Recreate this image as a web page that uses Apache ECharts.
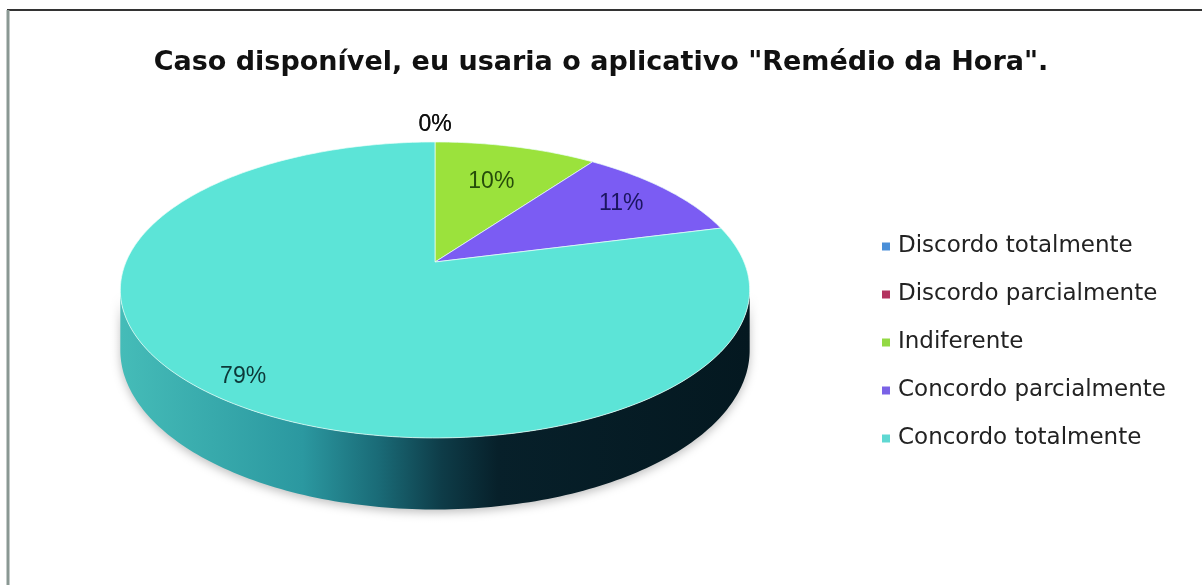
<!DOCTYPE html>
<html>
<head>
<meta charset="utf-8">
<script src="https://cdn.jsdelivr.net/npm/echarts@6/dist/echarts.min.js"></script>
<style>
  html, body { margin: 0; padding: 0; background: #fff; }
  #chart { width: 1202px; height: 585px; }
</style>
</head>
<body>
<div id="chart"></div>
<script>
// survey answers, percent of respondents
const categories = ['Discordo totalmente', 'Discordo parcialmente', 'Indiferente', 'Concordo parcialmente', 'Concordo totalmente']
const shares = [0, 0, 10, 11, 79]
const chartTitle = 'Caso disponível, eu usaria o aplicativo "Remédio da Hora".'

// styling
const topColors = ['#4a8fd8', '#b3335f', '#9be23c', '#7b5cf3', '#5ce4d7']
const legendColors = ['#4a8fd8', '#b3335f', '#93d944', '#7a62e6', '#5fd8d2']
const labelColors = ['#111', '#111', '#264d0a', '#1b1560', '#0d3838']
const labelRadius = [1.18, 1.18, 0.66, 0.79, 0.88]
const FONT = 'Arial, "Liberation Sans", sans-serif'
const WIDE_FONT = '"DejaVu Sans", sans-serif'

// perspective of the tilted disc
const pie = { cx: 435, cy: 262, a: 309, b: 142.7, k: 0.189, depth: 58 }

function project(r, phi) {
  const u = r * Math.sin(phi)
  const v = -r * Math.cos(phi)
  const w = 1 - pie.k * v
  return [pie.cx + pie.a * u / w, pie.cy + pie.b * v / w, w]
}

function arcPoints(a0, a1, r) {
  const pts = []
  const steps = Math.max(2, Math.ceil((a1 - a0) / (Math.PI / 180)))
  for (let i = 0; i <= steps; i++) {
    pts.push(project(r, a0 + (a1 - a0) * i / steps))
  }
  return pts
}

const total = shares.reduce((s, v) => s + v, 0)
const sideLeft = Math.acos(-pie.k)
const sideRight = 2 * Math.PI - sideLeft

const sideFill = new echarts.graphic.LinearGradient(120, 0, 750, 0, [
  { offset: 0, color: '#45bcb8' },
  { offset: 0.29, color: '#2b98a0' },
  { offset: 0.41, color: '#1a6b77' },
  { offset: 0.51, color: '#0e3c48' },
  { offset: 0.6, color: '#07202a' },
  { offset: 1, color: '#041820' },
], true)

function makeSlice(idx) {
  return function (params, api) {
    const value = api.value(0)
    const before = shares.slice(0, idx).reduce((s, v) => s + v, 0)
    const a0 = before / total * 2 * Math.PI
    const a1 = (before + value) / total * 2 * Math.PI
    const children = []

    // front wall
    const s0 = Math.max(a0, sideLeft)
    const s1 = Math.min(a1, sideRight)
    if (s1 > s0) {
      const top = arcPoints(s0, s1, 1)
      const bottom = top.map(p => [p[0], p[1] + pie.depth / p[2]]).reverse()
      children.push({
        type: 'polygon',
        shape: { points: top.map(p => [p[0], p[1]]).concat(bottom) },
        style: {
          fill: sideFill,
          shadowBlur: 10,
          shadowColor: 'rgba(0,0,0,0.25)',
          shadowOffsetY: 3,
        },
      })
    }

    // top face
    if (a1 > a0) {
      const pts = [[pie.cx, pie.cy]].concat(arcPoints(a0, a1, 1).map(p => [p[0], p[1]]))
      children.push({
        type: 'polygon',
        shape: { points: pts },
        style: {
          fill: topColors[idx],
          stroke: 'rgba(235,255,250,0.7)',
          lineWidth: 1,
        },
      })
    }

    // data label
    const mid = (a0 + a1) / 2
    const lp = project(labelRadius[idx], mid)
    children.push({
      type: 'text',
      x: lp[0],
      y: lp[1],
      z2: 10,
      style: {
        text: Math.round(value / total * 100) + '%',
        fill: labelColors[idx],
        font: '23px ' + FONT,
        align: 'center',
        verticalAlign: 'middle',
      },
    })

    return { type: 'group', children: children }
  }
}

const chart = echarts.init(document.getElementById('chart'))

const option = {
  backgroundColor: '#fff',
  animation: false,
  title: {
    text: chartTitle,
    left: 'center',
    top: 44,
    textStyle: {
      color: '#111',
      fontSize: 27,
      fontWeight: 'bold',
      fontFamily: WIDE_FONT,
    },
  },
  legend: {
    orient: 'vertical',
    left: 877,
    top: 230,
    icon: 'rect',
    itemWidth: 8,
    itemHeight: 8,
    itemGap: 25,
    data: categories,
    selectedMode: false,
    textStyle: {
      color: '#222',
      fontSize: 23,
      lineHeight: 23,
      fontFamily: WIDE_FONT,
      padding: [0, 0, 0, 3],
    },
  },
  graphic: [
    {
      type: 'line',
      shape: { x1: 7, y1: 10, x2: 1202, y2: 10 },
      style: { stroke: '#333', lineWidth: 2 },
    },
    {
      type: 'line',
      shape: { x1: 8, y1: 10, x2: 8, y2: 585 },
      style: { stroke: '#8a9893', lineWidth: 3 },
    },
  ],
  series: categories.map((name, i) => ({
    type: 'custom',
    name: name,
    coordinateSystem: 'none',
    itemStyle: { color: legendColors[i] },
    data: [[shares[i]]],
    renderItem: makeSlice(i),
  })),
}

chart.setOption(option)
</script>
</body>
</html>
